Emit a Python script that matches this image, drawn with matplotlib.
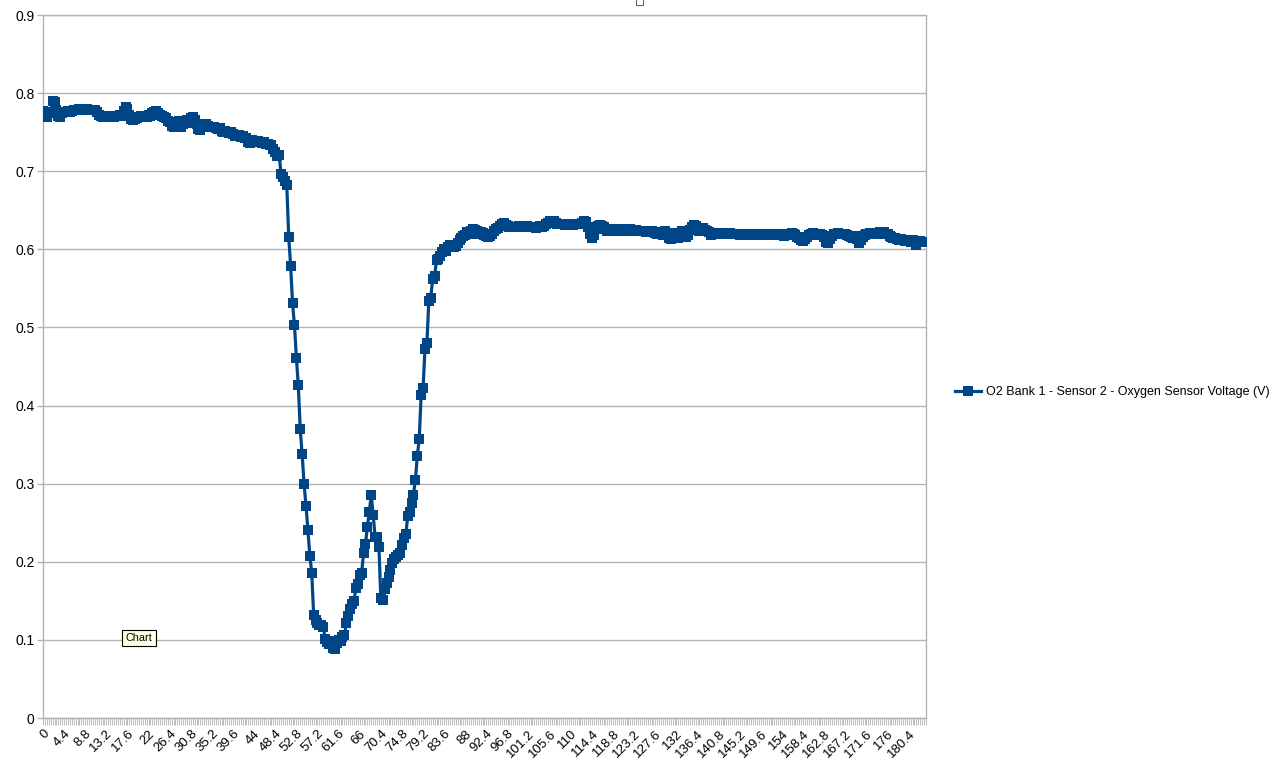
import matplotlib
matplotlib.use('Agg')
import matplotlib.pyplot as plt
import matplotlib.patches as patches

# O2 sensor voltage readings, one every 0.4 s
plateau_v = [0.777, 0.772, 0.770, 0.775, 0.776, 0.790, 0.788, 0.779,
             0.771, 0.770, 0.774,
             0.776, 0.776, 0.777, 0.776, 0.777, 0.778, 0.779, 0.779, 0.780, 0.779,
             0.780, 0.779, 0.780, 0.779, 0.778, 0.779, 0.778, 0.776, 0.772,
             0.771, 0.770, 0.771, 0.771, 0.770, 0.771, 0.771, 0.770, 0.771, 0.771, 0.772, 0.771,
             0.777, 0.782, 0.780,
             0.772, 0.767, 0.766, 0.767,
             0.768, 0.770, 0.771, 0.771, 0.771, 0.770, 0.772, 0.771,
             0.774, 0.776, 0.777, 0.775, 0.772, 0.771,
             0.770, 0.768, 0.764, 0.763, 0.758, 0.757, 0.762,
             0.763, 0.764, 0.757, 0.760, 0.764, 0.765, 0.762,
             0.768, 0.770, 0.766, 0.760,
             0.754, 0.753, 0.757, 0.759,
             0.760, 0.758, 0.757, 0.756, 0.757, 0.755, 0.754, 0.755,
             0.752, 0.750, 0.751, 0.750, 0.749, 0.750, 0.748, 0.745,
             0.747, 0.746, 0.744, 0.745, 0.743, 0.742, 0.737, 0.736,
             0.740, 0.739, 0.738, 0.739, 0.737, 0.736, 0.737, 0.735,
             0.735, 0.734, 0.733, 0.728, 0.724, 0.719, 0.721]

drop_v = [0.697, 0.692, 0.687, 0.682, 0.616, 0.579, 0.531, 0.503, 0.461, 0.426,
          0.370, 0.338, 0.300, 0.272, 0.241, 0.208, 0.186, 0.132, 0.125, 0.121, 0.119]

trough_v = [0.119, 0.117, 0.101, 0.097, 0.095, 0.098, 0.090, 0.088, 0.096, 0.100,
            0.098, 0.104, 0.106, 0.121, 0.130, 0.140, 0.146, 0.150, 0.166, 0.172,
            0.183, 0.186, 0.211, 0.223, 0.245, 0.264, 0.286, 0.260, 0.232, 0.232,
            0.219, 0.153, 0.151, 0.165, 0.173, 0.181, 0.190, 0.198, 0.203, 0.206,
            0.209, 0.211, 0.222, 0.230, 0.235, 0.258, 0.264, 0.275, 0.286, 0.305]

recovery_v = [0.336, 0.357, 0.414, 0.422, 0.473, 0.480, 0.534, 0.538, 0.562, 0.566,
              0.586, 0.588, 0.591, 0.596, 0.600, 0.598, 0.603, 0.606, 0.605, 0.603,
              0.604, 0.608, 0.612, 0.615, 0.617, 0.618]

settle_v = [0.622, 0.620, 0.624, 0.626, 0.625, 0.623, 0.620, 0.622, 0.621, 0.618,
            0.617, 0.616, 0.617, 0.620, 0.624, 0.626, 0.627, 0.630, 0.633, 0.634,
            0.631, 0.630, 0.629, 0.628, 0.629, 0.629, 0.628, 0.630, 0.629, 0.628,
            0.629, 0.630, 0.629, 0.628, 0.629, 0.628, 0.627, 0.629, 0.630, 0.629,
            0.630, 0.632, 0.634, 0.636, 0.635, 0.636, 0.634, 0.633, 0.632, 0.632,
            0.632, 0.631, 0.632, 0.633, 0.632, 0.631, 0.632, 0.633, 0.632, 0.633,
            0.634, 0.636, 0.635, 0.628, 0.620, 0.614, 0.618, 0.626, 0.630, 0.631,
            0.630, 0.628, 0.626, 0.624, 0.625, 0.626, 0.624, 0.625, 0.626, 0.625,
            0.624, 0.626, 0.625, 0.624, 0.625, 0.626, 0.625, 0.624, 0.625, 0.624,
            0.623, 0.624, 0.623, 0.622, 0.623, 0.624, 0.623, 0.622, 0.621, 0.620,
            0.622, 0.620, 0.618, 0.623, 0.621, 0.615, 0.613, 0.616, 0.621, 0.617,
            0.615, 0.619, 0.624, 0.622, 0.616, 0.618, 0.625, 0.629, 0.631, 0.630,
            0.627, 0.624, 0.626, 0.627, 0.625, 0.624, 0.622, 0.618, 0.620, 0.621,
            0.620, 0.619, 0.620, 0.621, 0.620, 0.619, 0.620, 0.621, 0.620, 0.619,
            0.620, 0.619, 0.618, 0.619, 0.620, 0.619, 0.618, 0.619, 0.620, 0.619,
            0.618, 0.619, 0.620, 0.619, 0.618, 0.619, 0.620, 0.619, 0.618, 0.619,
            0.618, 0.619, 0.620, 0.619, 0.618, 0.617, 0.618, 0.619, 0.620, 0.621,
            0.620, 0.618, 0.616, 0.614, 0.612, 0.611, 0.613, 0.616, 0.618, 0.620,
            0.621, 0.619, 0.618, 0.620, 0.619, 0.618, 0.616, 0.610, 0.608, 0.613,
            0.617, 0.619, 0.620, 0.621, 0.620, 0.619, 0.620, 0.619, 0.618, 0.617,
            0.616, 0.615, 0.617, 0.613, 0.608, 0.612, 0.616, 0.618, 0.619, 0.620,
            0.621, 0.620, 0.619, 0.620, 0.621, 0.622, 0.621, 0.622, 0.620, 0.619,
            0.617, 0.616, 0.615, 0.614, 0.613, 0.612, 0.613, 0.612, 0.611, 0.612,
            0.611, 0.610, 0.612, 0.611, 0.606, 0.609, 0.611, 0.610, 0.609, 0.610]

voltage = plateau_v + drop_v + trough_v + recovery_v + settle_v
step = 0.4
label_every = 11
y_ticks = [0, 0.1, 0.2, 0.3, 0.4, 0.5, 0.6, 0.7, 0.8, 0.9]
series_name = 'O2 Bank 1 - Sensor 2 - Oxygen Sensor Voltage (V)'

n = len(voltage)
times = ['%g' % round(i * step, 1) for i in range(n)]

plt.rcParams['font.family'] = ['Liberation Sans', 'DejaVu Sans']

W, H = 1275, 762
fig = plt.figure(figsize=(W / 100, H / 100), dpi=100)
ax = fig.add_axes([43 / W, 1 - 718 / H, (926 - 43) / W, (718 - 15) / H])

line, = ax.plot(range(n), voltage, color='#004586', lw=2.3, marker='s',
                markersize=7, markeredgewidth=0, zorder=3)

grid_c = '#b3b3b3'
ax.set_xlim(0, n - 1)
ax.set_ylim(0, 0.9)
ax.set_yticks(y_ticks)
ax.set_yticklabels(['%g' % v for v in y_ticks], fontsize=10)
ax.yaxis.grid(True, color=grid_c, lw=1)
ax.set_axisbelow(True)

ax.set_xticks(range(n))
ax.set_xticklabels([t if i % label_every == 0 else '' for i, t in enumerate(times)],
                   rotation=45, ha='right', va='top', rotation_mode='anchor', fontsize=9.5)
ax.tick_params(axis='x', length=5, width=0.6, color=grid_c, pad=2)
ax.tick_params(axis='y', length=4, width=1, color=grid_c, pad=2)
for s in ax.spines.values():
    s.set_color(grid_c)
    s.set_linewidth(1)

fig.legend([line], [series_name], loc='center left',
           bbox_to_anchor=(955 / W, 1 - 392 / H), frameon=False,
           fontsize=9, handlelength=2.1, handletextpad=0.4, borderpad=0,
           borderaxespad=0)

# tooltip + tiny artifact left over from the screenshot
fig.text(139 / W, 1 - 638 / H, 'Chart', ha='center', va='center', fontsize=7.8,
         bbox=dict(boxstyle='square,pad=0.3', fc='#ffffe1', ec='black', lw=0.8))
fig.add_artist(patches.Rectangle((636 / W, 1 - 5 / H), 7 / W, 8 / H, fill=False,
                                 ec='#666666', lw=0.8, transform=fig.transFigure))

fig.savefig('out.png', dpi=100)
